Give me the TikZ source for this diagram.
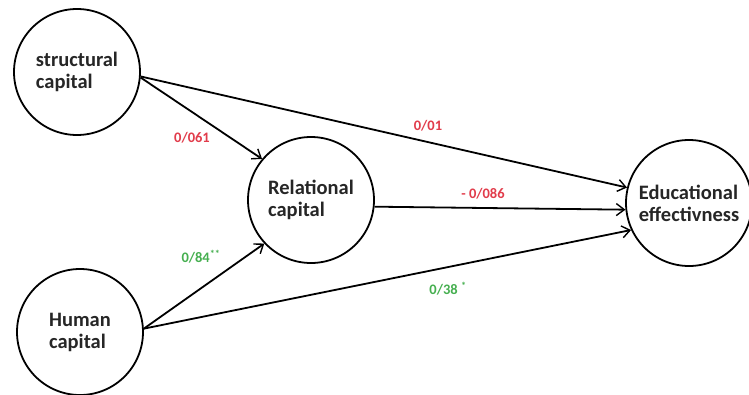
\documentclass[tikz,border=0pt]{standalone}
\usepackage{fontspec}
\setmainfont{Carlito}
\usetikzlibrary{arrows.meta}
\definecolor{pathred}{RGB}{225,60,75}
\definecolor{pathgreen}{RGB}{70,175,80}
\tikzset{
	latent/.style={circle, draw, line width=1.8pt, minimum size=126pt, inner sep=0pt,
		align=left, font=\fontsize{20.5}{22}\selectfont\bfseries, text=black!85},
	coef/.style={font=\fontsize{14.5}{16}\selectfont\bfseries},
}
\begin{document}
\begin{tikzpicture}[x=1pt, y=-1pt, >={Straight Barb[length=8pt,width=12pt,line width=1.4pt]}]
			\useasboundingbox (0,0) rectangle (749,394);
			\node[latent] (struct) at (77,72) {structural\\capital};
			\node[latent] (rel) at (311,200) {Relational\\capital};
			\node[latent] (hum) at (80,332) {Human\\capital};
			\node[latent] (edu) at (689,203) {Educational\\effectivness};
			\draw[->, line width=1.8pt] (struct.-4) -- (edu.166);
			\draw[->, line width=1.8pt] (struct.-5) -- (rel.140);
			\draw[->, line width=1.8pt] (rel.-6) -- (edu.186);
			\draw[->, line width=1.8pt] (hum.3) -- (rel.223);
			\draw[->, line width=1.8pt] (hum.3) -- (edu.205);
			\node[coef, text=pathred] (c1) at (192,138) {0/061};
			\node[coef, text=pathred] (c2) at (428,126) {0/01};
			\node[coef, text=pathred] (c3) at (483,194) {- 0/086};
			\node[coef, text=pathgreen] (c4) at (201,257) {0/84\textsuperscript{**}};
			\node[coef, text=pathgreen] (c5) at (448,289) {0/38 \textsuperscript{*}};
		\end{tikzpicture}
\end{document}
